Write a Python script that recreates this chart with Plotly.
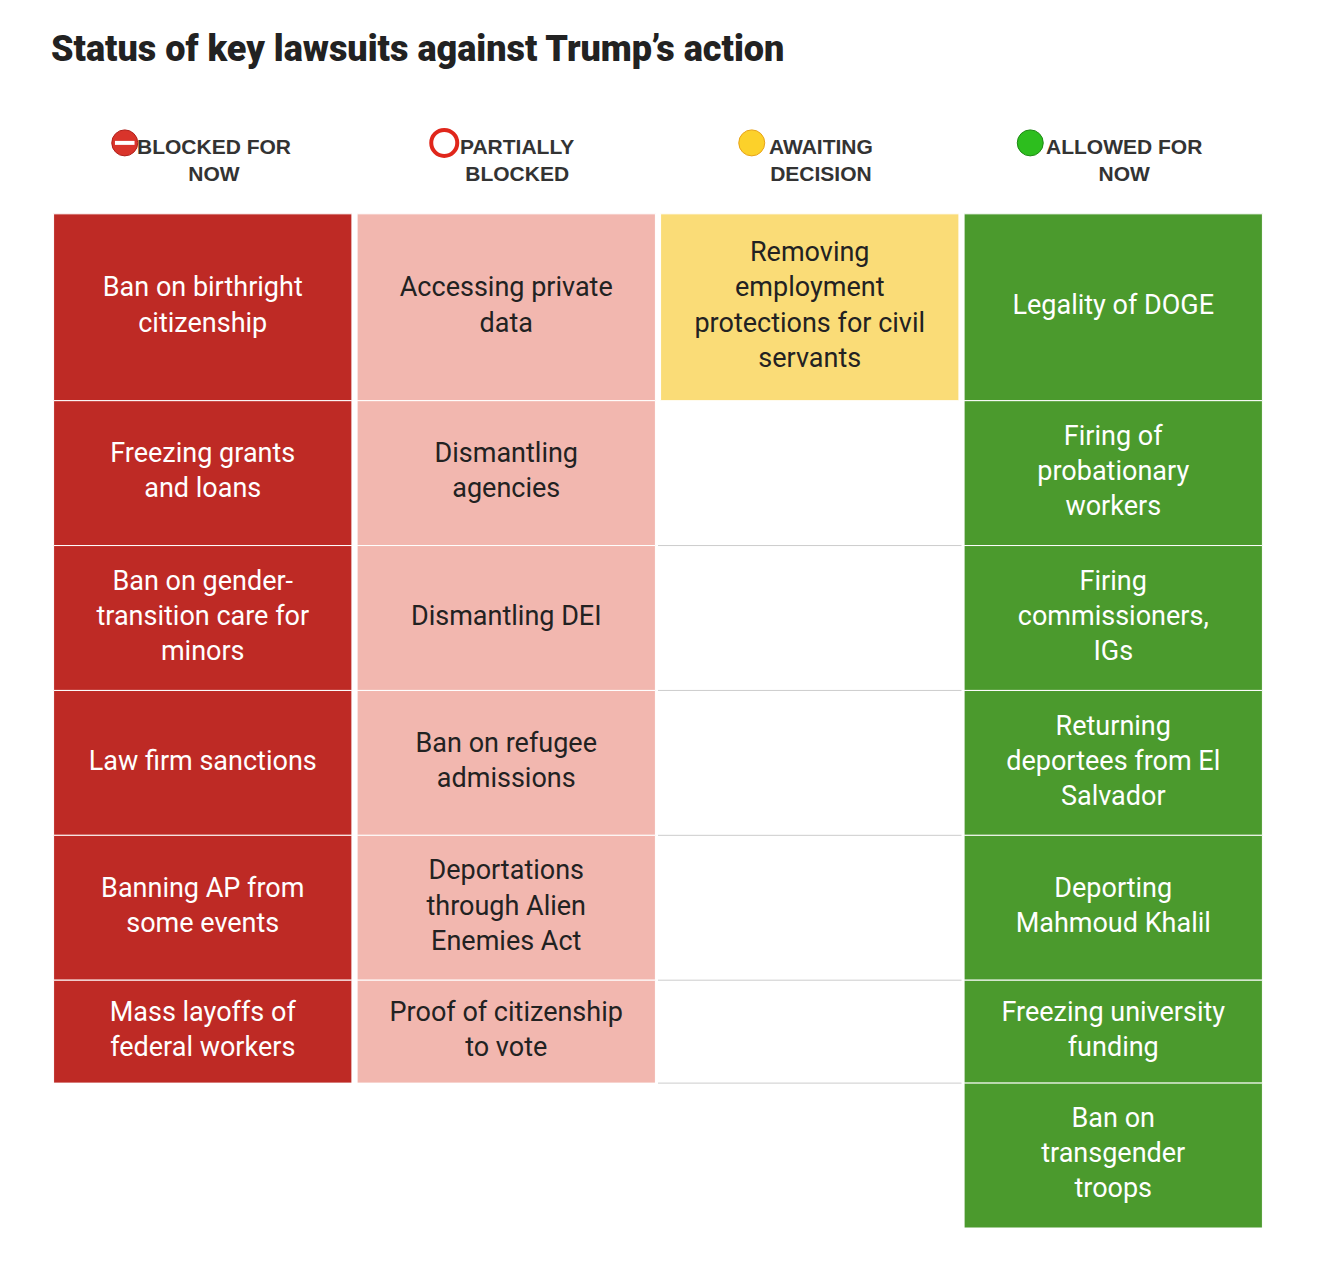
import plotly.graph_objects as go

title = "Status of key lawsuits against Trump’s action"
headers = ["BLOCKED FOR<br>NOW", "PARTIALLY<br>BLOCKED", "AWAITING<br>DECISION", "ALLOWED FOR<br>NOW"]
blocked = ["Ban on birthright<br>citizenship", "Freezing grants<br>and loans",
           "Ban on gender-<br>transition care for<br>minors", "Law firm sanctions",
           "Banning AP from<br>some events", "Mass layoffs of<br>federal workers"]
partial = ["Accessing private<br>data", "Dismantling<br>agencies", "Dismantling DEI",
           "Ban on refugee<br>admissions", "Deportations<br>through Alien<br>Enemies Act",
           "Proof of citizenship<br>to vote"]
awaiting = ["Removing<br>employment<br>protections for civil<br>servants"]
allowed = ["Legality of DOGE", "Firing of<br>probationary<br>workers", "Firing<br>commissioners,<br>IGs",
           "Returning<br>deportees from El<br>Salvador", "Deporting<br>Mahmoud Khalil",
           "Freezing university<br>funding", "Ban on<br>transgender<br>troops"]

columns = [blocked, partial, awaiting, allowed]
fills = ["#BE2A25", "#F2B7AF", "#FADC77", "#4B9A2D"]
text_colors = ["white", "#222", "#222", "white"]

# row heights follow the number of text lines in the row
nrows = max(len(c) for c in columns)
row_lines = [max(c[i].count("<br>") + 1 for c in columns if i < len(c)) for i in range(nrows)]
heights = [42 * n + 19 for n in row_lines]
tops = [sum(heights[:i]) for i in range(nrows)]
total = sum(heights)
header_space = 206

fig = go.Figure()
for j, col in enumerate(columns):
    n = len(col)
    fig.add_trace(go.Bar(x=[j] * n, y=heights[:n], base=tops[:n], width=0.983,
                         marker=dict(color=fills[j], line=dict(color="white", width=1)),
                         hoverinfo="skip"))
    fig.add_trace(go.Scatter(x=[j] * n, y=[tops[i] + heights[i] / 2 for i in range(n)],
                             mode="text", text=col,
                             textfont=dict(family="Roboto", size=27, color=text_colors[j]),
                             hoverinfo="skip"))

# grey separators in empty awaiting column
for i in range(len(awaiting), nrows - 1):
    yb = tops[i] + heights[i]
    fig.add_trace(go.Scatter(x=[1.5, 2.5], y=[yb, yb], mode="lines",
                             line=dict(color="#cccccc", width=1), hoverinfo="skip"))

# header icons
icon_shift = [-78, -62, -58, -83]
px_per_unit = 1214 / 4
icons = [dict(symbol="circle", color="#D9342B", line=dict(color="#B0201A", width=1)),
         dict(symbol="circle-open", color="#E0261B", line=dict(width=4)),
         dict(symbol="circle", color="#FCD12A", line=dict(color="#E8A317", width=1)),
         dict(symbol="circle", color="#2DBE1E", line=dict(color="#1E8A14", width=1))]
for j in range(4):
    fig.add_trace(go.Scatter(x=[j + icon_shift[j] / px_per_unit], y=[-71], mode="markers",
                             marker=dict(size=26, **icons[j]), hoverinfo="skip"))
    fig.add_annotation(x=j, y=-54, yanchor="middle", text="<b>" + headers[j] + "</b>",
                       xshift=11, showarrow=False, align="center",
                       font=dict(family="Liberation Sans", size=21, color="#333"))
fig.add_trace(go.Scatter(x=[icon_shift[0] / px_per_unit], y=[-71], mode="markers",
                         marker=dict(symbol="line-ew", size=14, line=dict(color="white", width=4)),
                         hoverinfo="skip"))

fig.update_layout(
    width=1343, height=1265, showlegend=False, barmode="overlay",
    plot_bgcolor="white", paper_bgcolor="white",
    margin=dict(l=43, r=86, t=0, b=45),
    title=dict(text=title, x=43 / 1343, xanchor="left", y=1 - 40 / 1265,
               yanchor="middle", font=dict(family="Roboto", size=36, color="#222", weight=900)),
    xaxis=dict(range=[-0.5, 3.5], visible=False, fixedrange=True),
    yaxis=dict(range=[total, -header_space], visible=False, fixedrange=True),
)
fig.write_html("out.html")
